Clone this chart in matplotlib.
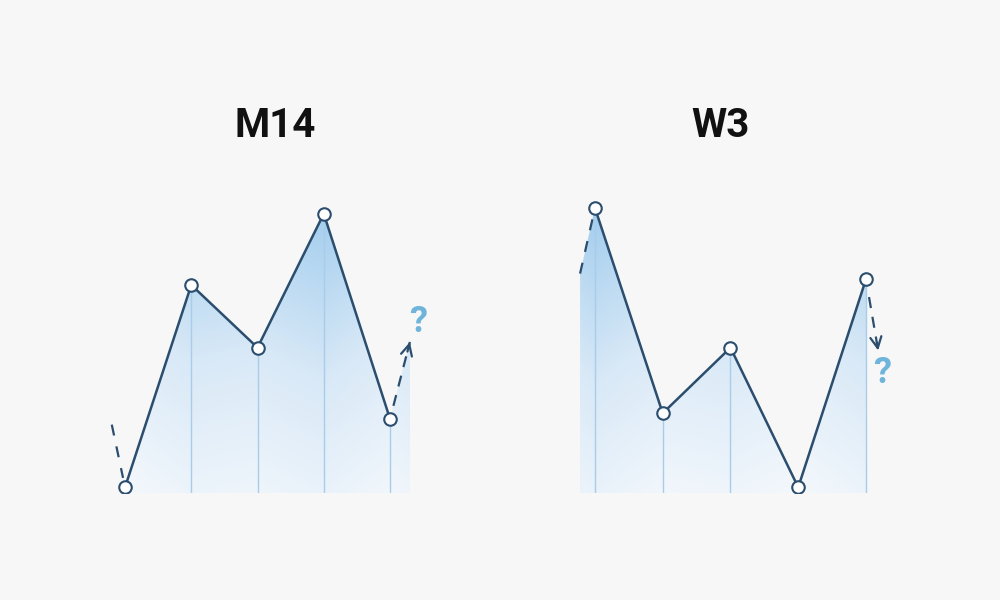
import matplotlib.pyplot as plt
import numpy as np
from matplotlib.colors import LinearSegmentedColormap
from matplotlib.patches import Polygon

plt.rcParams['font.family'] = ['Roboto', 'DejaVu Sans']

# swing values (0-100 scale), one list per pattern
m14_vals = [2, 73, 51, 98, 26]
w3_vals = [100, 28, 51, 2, 75]
# dashed lead-in start and the "next move" target (x index, value)
m14_lead = (-0.2, 24)
m14_next = (4.3, 53)
w3_lead = (-0.22, 77)
w3_next = (4.18, 50)
titles = ['M14', 'W3']

BG = '#f7f7f7'
LINE = '#2b4d6e'
VLINE = '#a9cce8'
QMARK = '#6fb4da'
grad = LinearSegmentedColormap.from_list('g', ['#f4f8fc', '#d9e9f7', '#a2cdee'])

fig = plt.figure(figsize=(10, 6), dpi=100, facecolor=BG)


def panel(rect, vals, lead, nxt, fill_left, fill_right, arrow_frac):
    ax = fig.add_axes(rect)
    ax.set_xlim(-0.5, 4.7)
    ax.set_ylim(0, 105)
    ax.axis('off')
    xs = list(range(len(vals)))

    # outline of the shaded area
    px = list(xs)
    py = list(vals)
    if fill_left:
        px = [lead[0]] + px
        py = [lead[1]] + py
    if fill_right:
        px = px + [nxt[0]]
        py = py + [nxt[1]]
    verts = [(px[0], 0)] + list(zip(px, py)) + [(px[-1], 0)]
    poly = Polygon(verts, closed=True, facecolor='none', edgecolor='none')
    ax.add_patch(poly)

    gx = np.linspace(-0.5, 4.7, 400)
    gy = np.linspace(0, 105, 300)
    X, Y = np.meshgrid(gx, gy)
    L = np.interp(X, px, py)
    t = np.clip(0.2 * L / 100 + 0.8 * Y / 100, 0, 1)
    im = ax.imshow(t, extent=(-0.5, 4.7, 0, 105), origin='lower', cmap=grad,
                   vmin=0, vmax=1, aspect='auto', interpolation='bilinear', zorder=1)
    im.set_clip_path(poly)

    # thin drop lines under each swing point
    for x, v in zip(xs, vals):
        if v > 5:
            ax.plot([x, x], [0, v], color=VLINE, lw=1, zorder=2)

    # dashed lead-in towards the first point
    f = 0.85
    ax.plot([lead[0], lead[0] + f * (xs[0] - lead[0])],
            [lead[1], lead[1] + f * (vals[0] - lead[1])],
            color=LINE, lw=1.6, dashes=(5, 5), zorder=3)

    ax.plot(xs, vals, color=LINE, lw=1.8, zorder=4)
    ax.plot(xs, vals, 'o', ms=9, mfc='white', mec=LINE, mew=1.5, zorder=5)

    # dashed arrow to the unknown next move
    sx = xs[-1] + arrow_frac * (nxt[0] - xs[-1])
    sy = vals[-1] + arrow_frac * (nxt[1] - vals[-1])
    ax.plot([sx, nxt[0]], [sy, nxt[1]], color=LINE, lw=1.6, dashes=(5, 4), zorder=6)
    hx = nxt[0] - 0.15 * (nxt[0] - sx)
    hy = nxt[1] - 0.15 * (nxt[1] - sy)
    ax.annotate('', xy=nxt, xytext=(hx, hy),
                arrowprops=dict(arrowstyle='->', color=LINE, lw=1.6,
                                mutation_scale=20, shrinkA=0, shrinkB=0), zorder=6)
    return ax


ax1 = panel([0.0919, 0.1783, 0.3445, 0.49875], m14_vals, m14_lead, m14_next,
            False, True, 0.17)
ax2 = panel([0.5611, 0.1783, 0.3523, 0.49875], w3_vals, w3_lead, w3_next,
            True, False, 0.25)

ax1.text(m14_next[0] + 0.12, m14_next[1] + 7, '?', color=QMARK, fontsize=26,
         fontweight='bold', ha='center', va='center', zorder=7)
ax2.text(w3_next[0] + 0.06, w3_next[1] - 8, '?', color=QMARK, fontsize=26,
         fontweight='bold', ha='center', va='center', zorder=7)

fig.text(0.275, 1 - 137 / 600, titles[0], fontsize=29, fontweight='bold',
         ha='center', va='baseline', color='#111111')
fig.text(0.721, 1 - 137 / 600, titles[1], fontsize=29, fontweight='bold',
         ha='center', va='baseline', color='#111111')

fig.savefig('out.png', dpi=100, facecolor=BG)
